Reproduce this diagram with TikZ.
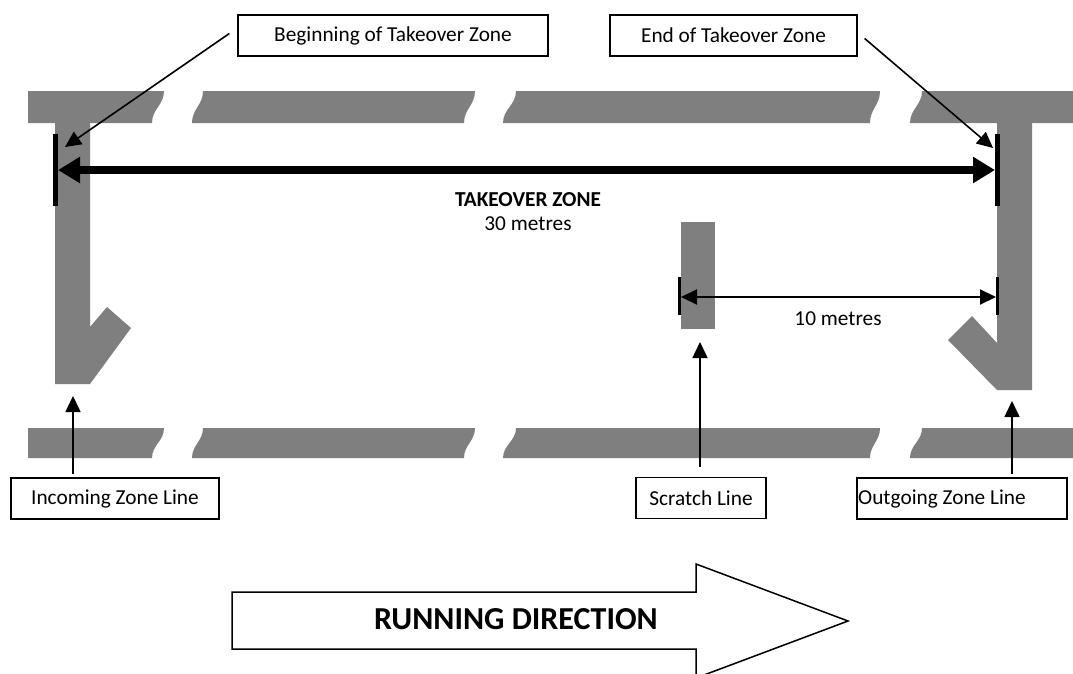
\documentclass[tikz,border=0pt]{standalone}
\usepackage{fontspec}
\setmainfont{Carlito}
\usetikzlibrary{arrows.meta}
\definecolor{lanegray}{RGB}{127,127,127}
\begin{document}
\begin{tikzpicture}[x=1pt,y=-1pt,
  lane/.style={fill=lanegray,draw=none},
  labelfont/.style={font=\fontsize{21.3}{25}\selectfont},
  labelbox/.style={draw,line width=1.3pt,inner sep=0pt,minimum height=41pt,labelfont},
  plaintext/.style={inner sep=0pt,anchor=base,labelfont},
  tick/.style={line width=#1},
  thinarrow/.style={line width=1.6pt,-{Triangle[length=16pt,width=15pt]}},
  dimarrow/.style={line width=2pt,{Triangle[length=16pt,width=15pt]}-{Triangle[length=16pt,width=15pt]}},
  bigdim/.style={line width=7.5pt,{Triangle[length=22pt,width=25pt]}-{Triangle[length=22pt,width=25pt]}},
  bigarrow/.style={draw,line width=1.5pt,fill=white,line join=miter}]
\useasboundingbox (0,0) rectangle (1073,673);
\fill[white] (0,0) rectangle (1073,673);

% ---- top lane line (y 91..123)
\fill[lane] (28,91) -- (164,91) .. controls (164,105) and (152,109) .. (152,123) -- (28,123) -- cycle;
\fill[lane] (203,91) -- (475,91) .. controls (475,105) and (464,109) .. (464,123) -- (192,123) .. controls (192,109) and (203,105) .. cycle;
\fill[lane] (516,91) -- (880,91) .. controls (880,105) and (870,109) .. (870,123) -- (503,123) .. controls (503,109) and (516,105) .. cycle;
\fill[lane] (922,91) -- (1073,91) -- (1073,123) -- (910,123) .. controls (910,109) and (922,105) .. cycle;

% ---- bottom lane line (y 428..458)
\fill[lane] (28,428) -- (164,428) .. controls (164,441) and (152,445) .. (152,458) -- (28,458) -- cycle;
\fill[lane] (203,428) -- (475,428) .. controls (475,441) and (464,445) .. (464,458) -- (192,458) .. controls (192,445) and (203,441) .. cycle;
\fill[lane] (516,428) -- (880,428) .. controls (880,441) and (870,445) .. (870,458) -- (503,458) .. controls (503,445) and (516,441) .. cycle;
\fill[lane] (922,428) -- (1073,428) -- (1073,458) -- (910,458) .. controls (910,445) and (922,441) .. cycle;

% ---- incoming zone line (left) and outgoing zone line (right)
\fill[lane] (55,122) -- (90,122) -- (90,327) -- (107,307) -- (131,328) -- (90,384) -- (55,384) -- cycle;
\fill[lane] (997,122) -- (1032,122) -- (1032,390) -- (997,390) -- (948,340) -- (972,316) -- (997,343) -- cycle;

% ---- scratch line
\node[lane,minimum width=34pt,minimum height=107pt,inner sep=0pt] (scratch) at (698,275.5) {};

% ---- takeover zone dimension
\coordinate (tzLtop) at (55.5,134); \coordinate (tzLbot) at (55.5,206);
\coordinate (tzRtop) at (997.5,134); \coordinate (tzRbot) at (997.5,206);
\draw[tick=5pt] (tzLtop) -- (tzLbot);
\draw[tick=5pt] (tzRtop) -- (tzRbot);
\coordinate (tzL) at (58,170); \coordinate (tzR) at (995,170);
\draw[bigdim] (tzL) -- (tzR);
\node[plaintext,font=\fontsize{21.3}{25}\selectfont\bfseries] (tzlabel) at (528,206) {TAKEOVER ZONE};
\node[plaintext] (tzmetres) at (528,230) {30 metres};

% ---- 10 metres dimension
\coordinate (dLtop) at (679.5,277); \coordinate (dLbot) at (679.5,315);
\coordinate (dRtop) at (997.5,277); \coordinate (dRbot) at (997.5,315);
\draw[tick=3pt] (dLtop) -- (dLbot);
\draw[tick=3pt] (dRtop) -- (dRbot);
\coordinate (dL) at (681,297); \coordinate (dR) at (996,297);
\draw[dimarrow] (dL) -- (dR);
\node[plaintext] (tenmetres) at (838,325) {10 metres};

% ---- label boxes
\node[labelbox,minimum width=310pt] (begbox) at (393,35.5) {Beginning of Takeover Zone};
\node[labelbox,minimum width=247pt] (endbox) at (733.5,35.5) {End of Takeover Zone};
\node[labelbox,minimum width=208pt] (inbox) at (115,498.5) {Incoming Zone Line};
\node[labelbox,minimum width=130pt] (scrbox) at (701,498) {Scratch Line};
\node[labelbox,minimum width=210pt] (outbox) at (962,498.5) {Outgoing Zone Line\hspace*{40pt}};

% ---- pointers
\coordinate (begtip) at (65,147);
\draw[thinarrow] ([xshift=-8pt,yshift=2pt]begbox.west) -- (begtip);
\coordinate (endtip) at (993,148);
\draw[thinarrow] ([xshift=7pt,yshift=-3pt]endbox.east) -- (endtip);
\coordinate (intip) at (73,396);
\draw[thinarrow] ([yshift=3pt]inbox.north -| intip) -- (intip);
\coordinate (scrtip) at (700,342);
\draw[thinarrow] ([yshift=10pt]scrbox.north -| scrtip) -- (scrtip);
\coordinate (outtip) at (1012,401);
\draw[thinarrow] ([yshift=3pt]outbox.north -| outtip) -- (outtip);

% ---- running direction arrow
\draw[bigarrow] (232,592) -- (696,592) -- (696,564) -- (848,621) -- (696,678) -- (696,649) -- (232,649) -- cycle;
\node[plaintext,font=\fontsize{32}{38}\selectfont\bfseries] (rundir) at (516,629) {RUNNING DIRECTION};
\end{tikzpicture}
\end{document}
